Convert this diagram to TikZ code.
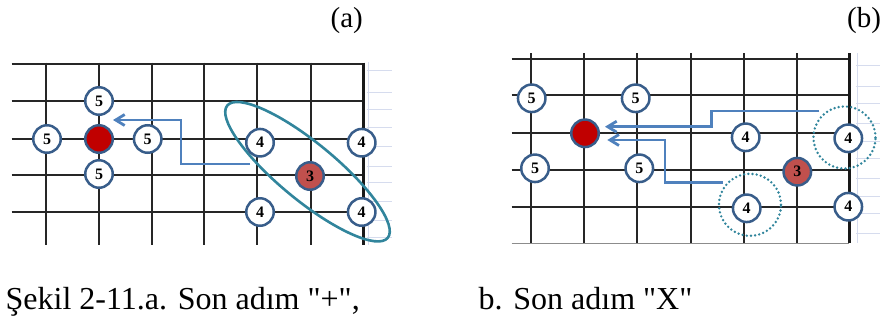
\documentclass[tikz,border=0pt]{standalone}
\usepackage{fontspec}
\setmainfont{Liberation Serif}
\newfontfamily\capfont{Liberation Serif}
\usepackage{xcolor}
\usepackage{tikz}
\usetikzlibrary{arrows.meta,calc}

\definecolor{rimblue}{RGB}{56,93,138}
\definecolor{stonered}{RGB}{192,0,0}
\definecolor{threered}{RGB}{192,80,77}
\definecolor{pathblue}{RGB}{79,129,189}
\definecolor{ringteal}{RGB}{49,133,156}
\definecolor{faintblue}{RGB}{214,220,238}

\begin{document}
\begin{tikzpicture}[
    x=1pt,
    y=-1pt,
    >={Straight Barb[length=9pt,width=11pt]},
    gridline/.style={draw=black!85, line width=2.3pt},
    edgeline/.style={draw=black!90, line width=3.6pt},
    faint/.style={draw=faintblue, line width=0.8pt},
    cell/.style={
        circle,
        draw=rimblue,
        line width=2.5pt,
        fill=white,
        minimum size=27.5pt,
        inner sep=0pt,
        font=\bfseries\fontsize{16}{16}\selectfont
    },
    stone/.style={cell, fill=stonered},
    last/.style={cell, fill=threered},
    ring/.style={draw=ringteal, line width=2.6pt},
    dotring/.style={draw=ringteal, line width=2.7pt, line cap=round,
        dash pattern=on 0pt off 4.2pt},
    arr/.style={->, draw=pathblue, line width=2.8pt},
    label/.style={inner sep=0pt, font=\capfont\fontsize{29}{32}\selectfont},
    caption/.style={inner sep=0pt, font=\capfont\fontsize{32}{36}\selectfont}
]
\useasboundingbox (0,0) rectangle (889,325);

% grid (a)
\foreach \y in {64,101,139,175,211.7}
    \draw[gridline] (11.7,\y) -- (363.3,\y);
\foreach \x in {45.7,99,151.7,204.3,257.3,310.7}
    \draw[gridline] (\x,62.5) -- (\x,244.5);
\draw[edgeline] (363.3,62.5) -- (363.3,244.5);
\draw[faint] (368.3,62) -- (368.3,245);
\foreach \y in {70.7,92.5,109,127.5,146,166,182.7,201.7,220,237.5}
    \draw[faint] (366.5,\y) -- (392,\y);

% grid (b)
\foreach \y in {59.3,95,133.3,170,206.7}
    \draw[gridline] (511.7,\y) -- (849.3,\y);
\draw[draw=black!45, line width=1.5pt] (511.7,243.3) -- (849.3,243.3);
\foreach \x in {530.7,584.3,637.3,690.7,744,797.3}
    \draw[gridline] (\x,53.3) -- (\x,243.3);
\draw[edgeline] (849.3,53.3) -- (849.3,243.3);
\draw[faint] (857.3,53) -- (857.3,243);
\foreach \y in {65,86.7,103.3,123.3,141.7,158.3,178.3,196.7,213.3,233.3}
    \draw[faint] (856,\y) -- (880,\y);

% last move "+"
\draw[ring, rotate around={-39.5:(307.5,171.7)}]
    (307.5,171.7) ellipse [x radius=104pt, y radius=28.5pt];

\coordinate (aStart) at (250,164);
\coordinate (aTip) at (113,120);
\draw[arr] (aStart) -- ++(-69,0) |- (aTip);

\node[cell] (a5top) at (99,101) {5};
\node[cell] (a5left) at (47,139) {5};
\node[stone] (aDot) at (99,139) {};
\node[cell] (a5right) at (147.7,139) {5};
\node[cell] (a5bot) at (99,174) {5};
\node[cell] (a4tl) at (260,142.7) {4};
\node[cell] (a4tr) at (361.7,142.7) {4};
\node[last] (a3) at (310,176) {3};
\node[cell] (a4bl) at (260,212) {4};
\node[cell] (a4br) at (361.7,212) {4};

% last move "X"
\draw[dotring] (844.5,137.5) circle [radius=31pt];
\draw[dotring] (750,204.8) circle [radius=31pt];

\coordinate (bStartA) at (819.3,111);
\coordinate (bTipA) at (605,126.7);
\coordinate (bStartB) at (722.7,182.7);
\coordinate (bTipB) at (607.3,140);
\draw[arr] (bStartA) -- ++(-107.6,0) |- (bTipA);
\draw[arr] (bStartB) -- ++(-57.7,0) |- (bTipB);

\node[cell] (b5a) at (531.7,98.3) {5};
\node[cell] (b5b) at (635.7,98.3) {5};
\node[stone] (bDot) at (585,133.3) {};
\node[cell] (b5c) at (535,168.3) {5};
\node[cell] (b5d) at (639.3,168.3) {5};
\node[cell] (b4tl) at (745.7,137.3) {4};
\node[cell] (b4tr) at (848.3,138.3) {4};
\node[last] (b3) at (797.3,171.7) {3};
\node[cell] (b4bl) at (746.7,208.3) {4};
\node[cell] (b4br) at (848.3,206.7) {4};

% labels
\node[label, anchor=base] (labA) at (346.7,27.5) {(a)};
\node[label, anchor=base] (labB) at (864,27.7) {(b)};
\node[caption, anchor=base west] (capA) at (5.5,309.3) {Şekil 2-11.a. Son adım "+",};
\node[caption, anchor=base west] (capB) at (478.5,309.3) {b. Son adım "X"};

\end{tikzpicture}
\end{document}
